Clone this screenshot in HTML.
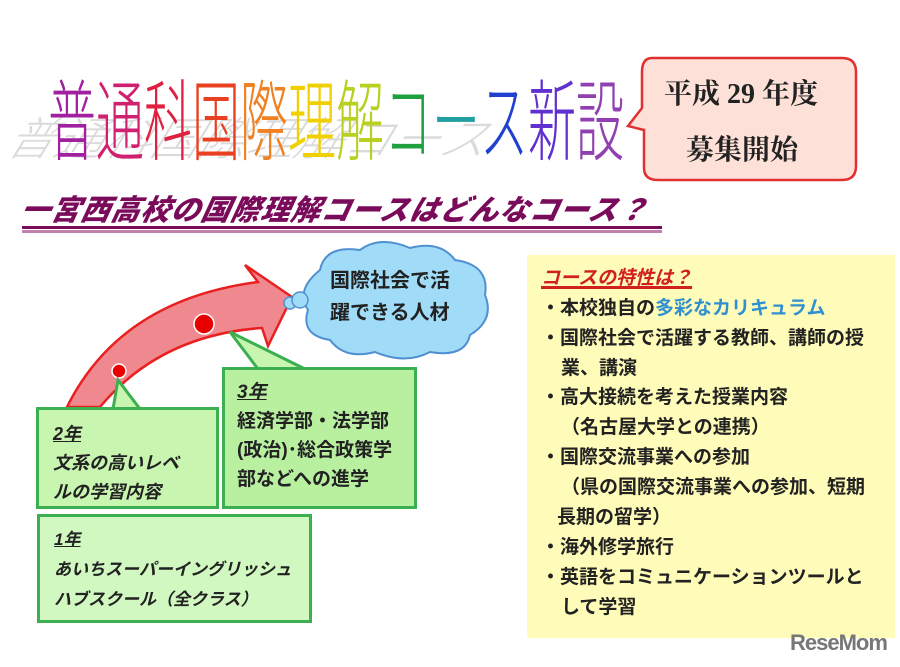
<!DOCTYPE html>
<html><head><meta charset="utf-8"><style>
body{margin:0;width:900px;height:667px;background:#fff;position:relative;overflow:hidden;font-family:"Liberation Sans","Noto Sans CJK JP",sans-serif}
.abs{position:absolute}
.t span{display:inline-block;width:48px;text-align:center;font-family:"Noto Sans CJK JP",sans-serif;font-weight:300;font-size:48px;line-height:48px}
.t{transform:scaleY(1.85);transform-origin:0 0;white-space:nowrap}
.box{position:absolute;background:#c8f5b0;border:3px solid #3cb050;box-sizing:border-box;font-weight:bold;color:#222;white-space:nowrap}
.list div{position:absolute;left:14px;font-size:19px;font-weight:bold;color:#222;white-space:nowrap;font-family:"Noto Sans CJK JP",sans-serif;line-height:24px}
</style></head><body>
<!-- shadow -->
<div class="abs t" style="left:30px;top:112px;opacity:.3;color:#888;transform:scaleY(.95) skewX(-30deg);transform-origin:0 0">
<span>普</span><span>通</span><span>科</span><span>国</span><span>際</span><span>理</span><span>解</span><span>コ</span><span>ー</span><span>ス</span></div>
<div class="abs t" style="left:48px;top:70px">
<span style="color:#a020a0">普</span><span style="color:#d02070">通</span><span style="color:#e02040">科</span><span style="color:#e84020">国</span><span style="color:#f08020">際</span><span style="color:#f0d000">理</span><span style="color:#b8d020">解</span><span style="color:#20a040">コ</span><span style="color:#20a0a0">ー</span><span style="color:#2040d0">ス</span><span style="color:#6030d0">新</span><span style="color:#9040b0">設</span></div>
<!-- bubble -->
<svg class="abs" style="left:620px;top:50px" width="245" height="140">
<path d="M32 8 Q22 8 22 22 L22 58 L8 76 L24 80 L24 118 Q24 130 38 130 L222 130 Q236 130 236 116 L236 22 Q236 8 222 8 Z" fill="#fde0d8" stroke="#e03030" stroke-width="2.5"/>
</svg>
<div class="abs" style="left:664px;top:72px;font-size:28px;font-weight:bold;font-family:'Liberation Serif','Noto Serif CJK SC',serif;color:#222;white-space:nowrap">平成 29 年度</div>
<div class="abs" style="left:686px;top:128px;font-size:28px;font-weight:bold;font-family:'Noto Serif CJK SC',serif;color:#222">募集開始</div>
<!-- subtitle -->
<div class="abs" style="left:22px;top:190px;font-size:29px;font-weight:900;font-style:italic;color:#7a0a5a;font-family:'Noto Sans CJK JP',sans-serif;transform:skewX(-12deg);white-space:nowrap;letter-spacing:1px;line-height:36px">一宮西高校の国際理解コースはどんなコース？</div>
<div class="abs" style="left:22px;top:226px;width:640px;height:3px;background:#7a0a5a"></div>
<div class="abs" style="left:22px;top:230px;width:640px;height:3px;background:#c080b0"></div>
<!-- arrow -->
<svg class="abs" style="left:0;top:240px" width="500" height="200">
<path d="M67 167 Q120 60 258 42 L245 25 L292 57 L268 106 L262 88 Q160 95 100 167 Z" fill="#f08890" stroke="#e82020" stroke-width="2.5"/>
<circle cx="119" cy="131" r="7" fill="#e80000" stroke="#fff" stroke-width="1.5"/>
<circle cx="204" cy="84" r="10" fill="#e80000" stroke="#fff" stroke-width="1.5"/>
<!-- cloud -->
<path d="M320 30 Q325 5 360 10 Q380 -5 410 8 Q440 0 455 20 Q490 25 485 55 Q495 80 470 95 Q465 118 430 112 Q405 125 375 112 Q345 120 330 100 Q300 95 308 70 Q295 50 320 30 Z" fill="#a0dcf8" stroke="#5090d0" stroke-width="2"/>
<circle cx="290" cy="63" r="6" fill="#a0dcf8" stroke="#5090d0" stroke-width="1.5"/>
<circle cx="300" cy="60" r="8" fill="#a0dcf8" stroke="#5090d0" stroke-width="1.5"/>
<!-- callout tails -->
<path d="M113 169 L118 140 L140 169" fill="#c8f5b0" stroke="#3cb050" stroke-width="3"/>
<path d="M258 129 L230 92 L305 129" fill="#c8f5b0" stroke="#3cb050" stroke-width="3"/>
</svg>
<div class="abs" style="left:330px;top:265px;font-size:20px;font-weight:bold;line-height:32px;color:#222">国際社会で活<br>躍できる人材</div>
<div class="box" style="left:36px;top:407px;width:183px;height:102px;padding:10px 0 0 14px;font-style:italic;font-size:18px;line-height:29px"><u>2年</u><br>文系の高いレベ<br>ルの学習内容</div>
<div class="box" style="left:222px;top:367px;width:195px;height:142px;padding:8px 0 0 12px;font-size:19px;line-height:29px;background:#b8f0a0"><i><u>3年</u></i><br>経済学部・法学部<br>(政治)･総合政策学<br>部などへの進学</div>
<div class="box" style="left:37px;top:514px;width:275px;height:109px;padding:8px 0 0 14px;font-style:italic;font-size:17px;line-height:30px;background:#d0f8c0"><u>1年</u><br>あいちスーパーイングリッシュ<br>ハブスクール（全クラス）</div>
<!-- right panel -->
<div class="abs list" style="left:527px;top:255px;width:368px;height:383px;background:#fffbb8">
<div style="left:14px;top:10px;color:#d02020;font-style:italic;font-size:19px;text-decoration:underline;text-decoration-thickness:3px">コースの特性は？</div>
<div style="top:40px">・本校独自の<span style="color:#3090d0">多彩なカリキュラム</span></div>
<div style="top:70px">・国際社会で活躍する教師、講師の授</div>
<div style="top:100px;left:34px">業、講演</div>
<div style="top:129px">・高大接続を考えた授業内容</div>
<div style="top:159px;left:34px">（名古屋大学との連携）</div>
<div style="top:189px">・国際交流事業への参加</div>
<div style="top:219px;left:34px">（県の国際交流事業への参加、短期</div>
<div style="top:249px;left:30px">長期の留学）</div>
<div style="top:279px">・海外修学旅行</div>
<div style="top:309px">・英語をコミュニケーションツールと</div>
<div style="top:339px;left:34px">して学習</div>
</div>
<div class="abs" style="left:790px;top:630px;font-size:22px;font-weight:bold;color:#777;letter-spacing:-1px">ReseMom</div>
</body></html>
